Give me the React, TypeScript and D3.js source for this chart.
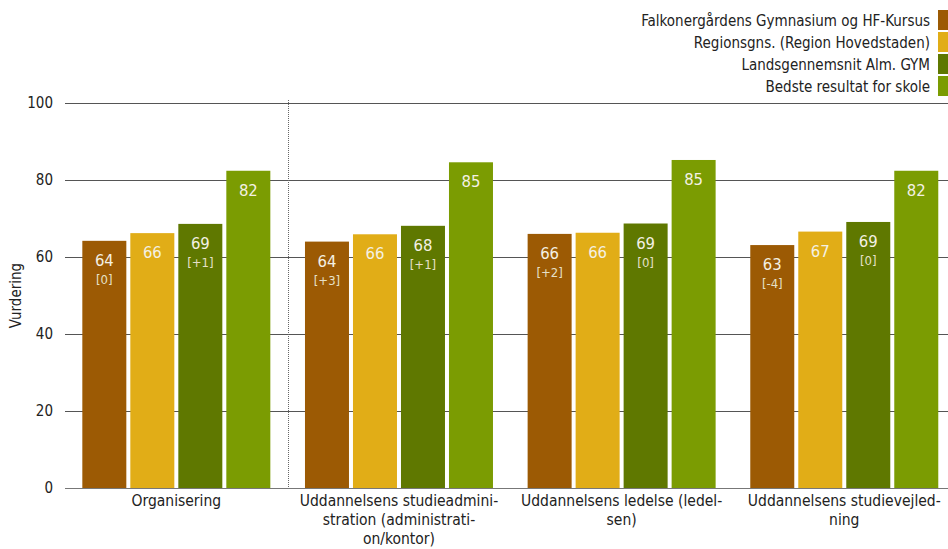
import React from "react";
import * as d3 from "d3";

const categories = [
  ["Organisering"],
  ["Uddannelsens studieadmini-", "stration (administrati-", "on/kontor)"],
  ["Uddannelsens ledelse (ledel-", "sen)"],
  ["Uddannelsens studievejled-", "ning"],
];
const seriesNames = [
  "Falkonergårdens Gymnasium og HF-Kursus",
  "Regionsgns. (Region Hovedstaden)",
  "Landsgennemsnit Alm. GYM",
  "Bedste resultat for skole",
];
const schoolValues = [64.2, 64.0, 66.0, 63.1];
const regionValues = [66.2, 65.9, 66.3, 66.6];
const nationalValues = [68.6, 68.1, 68.7, 69.1];
const bestValues = [82.4, 84.6, 85.2, 82.4];
const schoolDiffs = ["[0]", "[+3]", "[+2]", "[-4]"];
const nationalDiffs = ["[+1]", "[+1]", "[0]", "[0]"];
const yTicks = [0, 20, 40, 60, 80, 100];
const colors = ["#9C5A04", "#E1AD17", "#5F7800", "#7B9C02"];

const W = 948;
const H = 549;
const FONT = "'DejaVu Sans Condensed', 'DejaVu Sans', sans-serif";

export default function App() {
  const series = [schoolValues, regionValues, nationalValues, bestValues];
  const diffs: (string[] | null)[] = [schoolDiffs, null, nationalDiffs, null];
  const x = d3.scaleBand<number>().domain([0, 1, 2, 3]).range([65, 955.6]).paddingInner(0).paddingOuter(0);
  const y = d3.scaleLinear().domain([0, 100]).range([488, 103]);
  const inner = d3.scaleBand<number>().domain([0, 1, 2, 3]).range([0, 188]).paddingInner(4 / 48).paddingOuter(0);
  const bw = inner.bandwidth();
  const sep = Math.round(x(1)!) + 0.5;

  return (
    <svg width={W} height={H} style={{ position: "absolute", left: 0, top: 0, background: "#fff" }} fontFamily={FONT}>
      {yTicks.map((t) => {
        const gy = Math.round(y(t)) + 0.5;
        return (
          <g key={t}>
            <line x1={65} x2={W} y1={gy} y2={gy} stroke={t === 0 ? "#777" : "#555"} strokeWidth={1} />
            <text x={53} y={y(t) + 5} fontSize={15} textAnchor="end" fill="#222">{t}</text>
          </g>
        );
      })}
      <text transform={`translate(21,${y(50)}) rotate(-90)`} fontSize={15} textAnchor="middle" fill="#222">Vurdering</text>
      <line x1={sep} x2={sep} y1={100} y2={488} stroke="#666" strokeDasharray="1,1" strokeWidth={1} />
      {categories.map((cat, ci) => {
        const cx = x(ci)! + x.bandwidth() / 2;
        const gx = cx - 94;
        return (
          <g key={ci}>
            {series.map((vals, si) => {
              const v = vals[ci];
              const bx = gx + inner(si)!;
              const top = y(v);
              const d = diffs[si];
              return (
                <g key={si}>
                  <rect x={bx} y={top} width={bw} height={y(0) - top} fill={colors[si]} />
                  <text x={bx + bw / 2} y={top + 25} fontSize={16.5} textAnchor="middle" fill="#F4F1E4">{Math.round(v)}</text>
                  {d && (
                    <text x={bx + bw / 2} y={top + 43} fontSize={13} textAnchor="middle" fill="#E6E0C8">{d[ci]}</text>
                  )}
                </g>
              );
            })}
            {cat.map((line, li) => (
              <text key={li} x={cx} y={506 + li * 19} fontSize={15.5} textAnchor="middle" fill="#222">{line}</text>
            ))}
          </g>
        );
      })}
      {seriesNames.map((n, i) => (
        <g key={i}>
          <rect x={938} y={10 + i * 22} width={12} height={20} fill={colors[i]} />
          <text x={930} y={25.5 + i * 22} fontSize={15} textAnchor="end" fill="#222">{n}</text>
        </g>
      ))}
    </svg>
  );
}
